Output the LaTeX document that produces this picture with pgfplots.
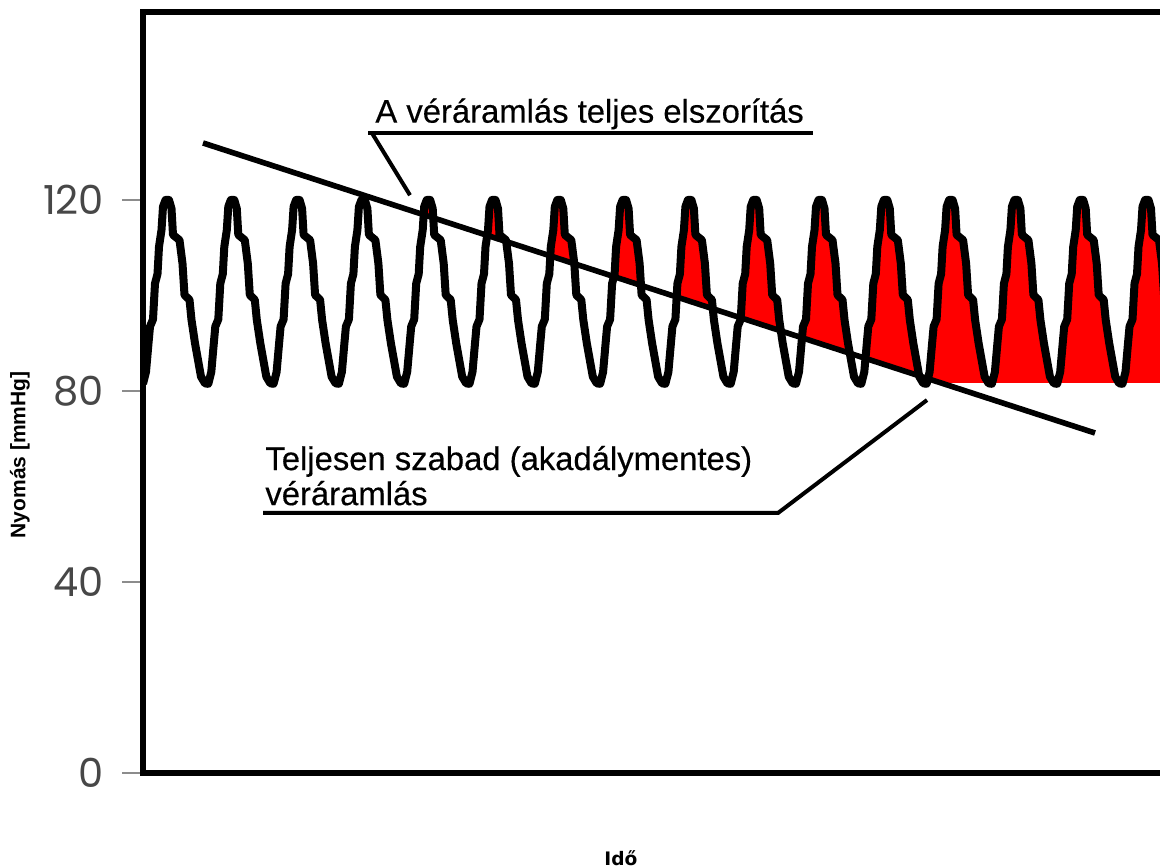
\documentclass[border=0pt]{standalone}
\usepackage{pgfplots}
\pgfplotsset{compat=1.18}
\usepackage{pgfplotstable}
\usepgfplotslibrary{fillbetween}
\usepackage{fontspec}
\setmainfont{Liberation Sans}
\newfontfamily\tickfont{Poppins}
\newfontfamily\dvfont{DejaVu Sans}
\newfontfamily\annfont{Liberation Sans}[FakeBold=0.35]

\pgfplotstableread{
x y
0 81.5
3 84
5.5 90
7 93.5
10 95
12 102.5
14.5 104.5
16 110.2
18.5 113.7
20 118.6
22.5 120
26 120
28.5 118.2
30 112.7
36.5 111.6
39.5 106.7
41.5 100.1
46.5 99.1
48.5 94.9
52 90
58 83
62 81.6
65.3 81.5
68.3 84
70.8 90
72.3 93.5
75.3 95
77.3 102.5
79.8 104.5
81.3 110.2
83.8 113.7
85.3 118.6
87.8 120
91.3 120
93.8 118.2
95.3 112.7
101.8 111.6
104.8 106.7
106.8 100.1
111.8 99.1
113.8 94.9
117.3 90
123.3 83
127.3 81.6
130.6 81.5
133.6 84
136.1 90
137.6 93.5
140.6 95
142.6 102.5
145.1 104.5
146.6 110.2
149.1 113.7
150.6 118.6
153.1 120
156.6 120
159.1 118.2
160.6 112.7
167.1 111.6
170.1 106.7
172.1 100.1
177.1 99.1
179.1 94.9
182.6 90
188.6 83
192.6 81.6
195.9 81.5
198.9 84
201.4 90
202.9 93.5
205.9 95
207.9 102.5
210.4 104.5
211.9 110.2
214.4 113.7
215.9 118.6
218.4 120
221.9 120
224.4 118.2
225.9 112.7
232.4 111.6
235.4 106.7
237.4 100.1
242.4 99.1
244.4 94.9
247.9 90
253.9 83
257.9 81.6
261.2 81.5
264.2 84
266.7 90
268.2 93.5
271.2 95
273.2 102.5
275.7 104.5
277.2 110.2
279.7 113.7
281.2 118.6
283.7 120
287.2 120
289.7 118.2
291.2 112.7
297.7 111.6
300.7 106.7
302.7 100.1
307.7 99.1
309.7 94.9
313.2 90
319.2 83
323.2 81.6
326.5 81.5
329.5 84
332 90
333.5 93.5
336.5 95
338.5 102.5
341 104.5
342.5 110.2
345 113.7
346.5 118.6
349 120
352.5 120
355 118.2
356.5 112.7
363 111.6
366 106.7
368 100.1
373 99.1
375 94.9
378.5 90
384.5 83
388.5 81.6
391.8 81.5
394.8 84
397.3 90
398.8 93.5
401.8 95
403.8 102.5
406.3 104.5
407.8 110.2
410.3 113.7
411.8 118.6
414.3 120
417.8 120
420.3 118.2
421.8 112.7
428.3 111.6
431.3 106.7
433.3 100.1
438.3 99.1
440.3 94.9
443.8 90
449.8 83
453.8 81.6
457.1 81.5
460.1 84
462.6 90
464.1 93.5
467.1 95
469.1 102.5
471.6 104.5
473.1 110.2
475.6 113.7
477.1 118.6
479.6 120
483.1 120
485.6 118.2
487.1 112.7
493.6 111.6
496.6 106.7
498.6 100.1
503.6 99.1
505.6 94.9
509.1 90
515.1 83
519.1 81.6
522.4 81.5
525.4 84
527.9 90
529.4 93.5
532.4 95
534.4 102.5
536.9 104.5
538.4 110.2
540.9 113.7
542.4 118.6
544.9 120
548.4 120
550.9 118.2
552.4 112.7
558.9 111.6
561.9 106.7
563.9 100.1
568.9 99.1
570.9 94.9
574.4 90
580.4 83
584.4 81.6
587.7 81.5
590.7 84
593.2 90
594.7 93.5
597.7 95
599.7 102.5
602.2 104.5
603.7 110.2
606.2 113.7
607.7 118.6
610.2 120
613.7 120
616.2 118.2
617.7 112.7
624.2 111.6
627.2 106.7
629.2 100.1
634.2 99.1
636.2 94.9
639.7 90
645.7 83
649.7 81.6
653 81.5
656 84
658.5 90
660 93.5
663 95
665 102.5
667.5 104.5
669 110.2
671.5 113.7
673 118.6
675.5 120
679 120
681.5 118.2
683 112.7
689.5 111.6
692.5 106.7
694.5 100.1
699.5 99.1
701.5 94.9
705 90
711 83
715 81.6
718.3 81.5
721.3 84
723.8 90
725.3 93.5
728.3 95
730.3 102.5
732.8 104.5
734.3 110.2
736.8 113.7
738.3 118.6
740.8 120
744.3 120
746.8 118.2
748.3 112.7
754.8 111.6
757.8 106.7
759.8 100.1
764.8 99.1
766.8 94.9
770.3 90
776.3 83
780.3 81.6
783.6 81.5
786.6 84
789.1 90
790.6 93.5
793.6 95
795.6 102.5
798.1 104.5
799.6 110.2
802.1 113.7
803.6 118.6
806.1 120
809.6 120
812.1 118.2
813.6 112.7
820.1 111.6
823.1 106.7
825.1 100.1
830.1 99.1
832.1 94.9
835.6 90
841.6 83
845.6 81.6
848.9 81.5
851.9 84
854.4 90
855.9 93.5
858.9 95
860.9 102.5
863.4 104.5
864.9 110.2
867.4 113.7
868.9 118.6
871.4 120
874.9 120
877.4 118.2
878.9 112.7
885.4 111.6
888.4 106.7
890.4 100.1
895.4 99.1
897.4 94.9
900.9 90
906.9 83
910.9 81.6
914.2 81.5
917.2 84
919.7 90
921.2 93.5
924.2 95
926.2 102.5
928.7 104.5
930.2 110.2
932.7 113.7
934.2 118.6
936.7 120
940.2 120
942.7 118.2
944.2 112.7
950.7 111.6
953.7 106.7
955.7 100.1
960.7 99.1
962.7 94.9
966.2 90
972.2 83
976.2 81.6
979.5 81.5
982.5 84
985 90
986.5 93.5
989.5 95
991.5 102.5
994 104.5
995.5 110.2
998 113.7
999.5 118.6
1002 120
1005.5 120
1008 118.2
1009.5 112.7
1016 111.6
1019 106.7
1021 100.1
1026 99.1
1028 94.9
1031.5 90
1037.5 83
1041.5 81.6
1044.8 81.5
}\wave

\begin{document}
\begin{tikzpicture}
\begin{axis}[
  name=ax,
  scale only axis,
  width=508.5pt, height=380.5pt,
  xmin=0, xmax=1017, ymin=0, ymax=159.37,
  axis x line=box, axis y line=left,
  axis line style={-, line width=3pt, line cap=rect},
  axis on top,
  xtick=\empty,
  ytick={0,40,80,120},
  tick align=outside,
  major tick length=10.5pt,
  ytick style={black!45, line width=1pt},
  /pgf/number format/assume math mode=true,
  yticklabel style={font=\tickfont\fontsize{20}{20}\selectfont, text=black!72, xshift=-5.5pt},
  ylabel={Nyomás [mmHg]},
  ylabel style={font=\bfseries\fontsize{10.5}{10.5}\selectfont, at={([xshift=-61.5pt]rel axis cs:0,0.418)}, anchor=center},
  xlabel={Idő},
  xlabel style={font=\dvfont\bfseries\fontsize{9.3}{9.3}\selectfont, at={([yshift=-46pt]rel axis cs:0.470,0)}, anchor=base},
  clip=true,
]
\addplot[draw=none, name path=wave, forget plot] table {\wave};
\addplot[draw=none, name path=base, forget plot] coordinates {(0,81.7) (1044.8,81.7)};
\addplot[fill=red, draw=none] fill between[of=wave and base];
% region below the cuff-pressure line stays white
\addplot[fill=white, draw=none] coordinates {(0,81) (0,136.04) (804.7,81) (0,81)};
\addplot[black, line width=4pt, line join=round] table {\wave};
\addplot[black, line width=2.8pt] coordinates {(60,131.94) (952,71.2)};
% annotations
\node[anchor=base west, inner sep=0pt, font=\annfont\fontsize{16.4}{17.5}\selectfont] at (axis cs:232,136.2) {A véráramlás teljes elszorítás};
\draw[line width=2pt] (axis cs:225,134.0) -- (axis cs:670,134.0);
\draw[line width=2pt] (axis cs:229,134.0) -- (axis cs:267,121.0);
\node[anchor=base west, inner sep=0pt, font=\annfont\fontsize{16.4}{17.5}\selectfont] at (axis cs:122,63.45) {Teljesen szabad (akadálymentes)};
\node[anchor=base west, inner sep=0pt, font=\annfont\fontsize{16.4}{17.5}\selectfont] at (axis cs:122,56.1) {véráramlás};
\draw[line width=2pt] (axis cs:120,54.45) -- (axis cs:635,54.45) -- (axis cs:784,78.1);
\end{axis}
\pgfresetboundingbox
\path[use as bounding box] ([shift={(-71.5pt,-47pt)}]ax.south west) rectangle ([shift={(0pt,6pt)}]ax.north east);
\end{tikzpicture}
\end{document}
